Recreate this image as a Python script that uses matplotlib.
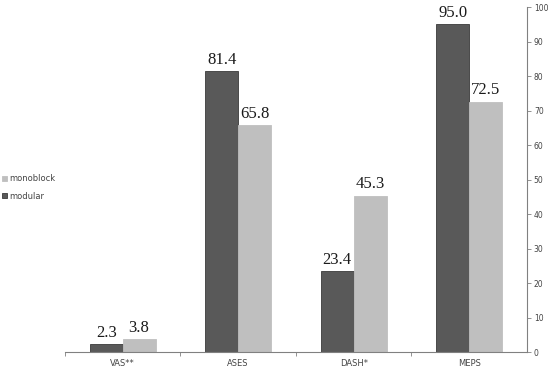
import numpy as np
import matplotlib
matplotlib.use("Agg")
from matplotlib import pyplot as plt

# Data
categories = ['VAS**', 'ASES', 'DASH*', 'MEPS']
modular = [2.3, 81.4, 23.4, 95.0]
monoblock = [3.8, 65.8, 45.3, 72.5]
y_ticks = list(range(0, 101, 10))

dark = '#595959'
light = '#bfbfbf'
axis_col = '#808080'

fig = plt.figure(figsize=(5.5, 3.71), dpi=100)
ax = fig.add_axes([0.118, 0.051, 0.840, 0.930])

x = np.arange(len(categories))
w = 0.285
b1 = ax.bar(x - w / 2, modular, w, color=dark, edgecolor='#3a3a3a', linewidth=0.6, label='modular')
b2 = ax.bar(x + w / 2, monoblock, w, color=light, edgecolor=light, linewidth=0.6, label='monoblock')

for rects, vals in ((b1, modular), (b2, monoblock)):
    for r, v in zip(rects, vals):
        ax.text(r.get_x() + r.get_width() / 2, v + 1.0, f'{v:.1f}', ha='center', va='bottom',
                fontsize=12, family='Liberation Serif', color='#1a1a1a')

ax.set_xlim(-0.5, len(categories) - 0.5)
ax.set_ylim(0, 100)

# right-hand axis only
ax.yaxis.tick_right()
ax.set_yticks(y_ticks)
ax.tick_params(axis='y', direction='out', length=3, width=0.6, color=axis_col,
               labelsize=5.5, labelcolor='#444444', pad=2)
ax.spines['left'].set_visible(False)
ax.spines['top'].set_visible(False)
for s in ('right', 'bottom'):
    ax.spines[s].set_color(axis_col)
    ax.spines[s].set_linewidth(0.8)

ax.set_xticks(x)
ax.set_xticklabels(categories)
ax.tick_params(axis='x', length=0, labelsize=6, labelcolor='#444444', pad=5)
ax.set_xticks(np.arange(len(categories)) - 0.5, minor=True)
ax.tick_params(axis='x', which='minor', direction='out', length=3, width=0.6, color=axis_col)

# legend on the left, monoblock on top
fig.legend([b2, b1], ['monoblock', 'modular'], loc='upper left', bbox_to_anchor=(0.0, 0.535),
           frameon=False, fontsize=6, handlelength=0.6, handleheight=0.6, handletextpad=0.3,
           labelspacing=1.0, borderaxespad=0.0, borderpad=0.2, labelcolor='#444444')

fig.savefig('out.png', dpi=100)
